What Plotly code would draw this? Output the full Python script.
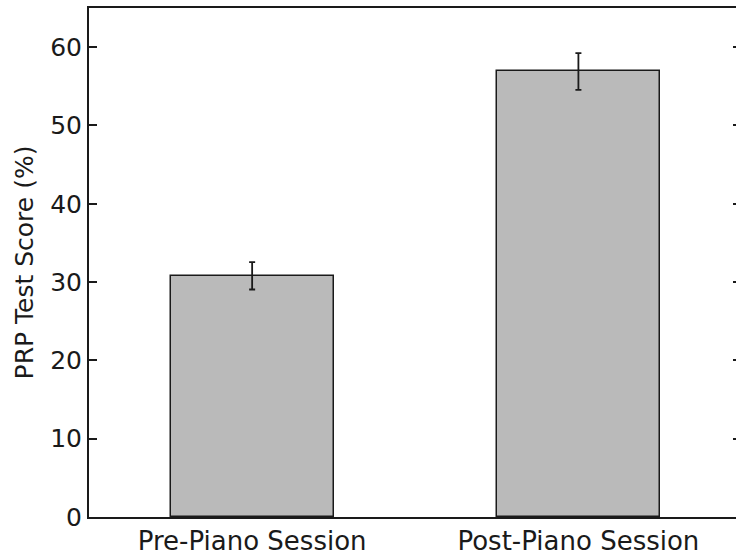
import plotly.graph_objects as go

categories = ["Pre-Piano Session", "Post-Piano Session"]
positions = [1, 2]
scores = [30.8, 56.9]
errors = [1.75, 2.35]
y_ticks = [0, 10, 20, 30, 40, 50, 60]

FONT = "DejaVu Sans"
INK = "#1a1a1a"

fig = go.Figure()
fig.add_trace(go.Bar(
    x=positions, y=scores, width=0.5,
    marker=dict(color="#bababa", line=dict(color=INK, width=1.5)),
    error_y=dict(type="data", array=errors, color=INK, thickness=1.8, width=3),
    showlegend=False,
))
# invisible trace to anchor right-hand tick axis
fig.add_trace(go.Scatter(x=[1], y=[0], yaxis="y2", mode="markers",
                         marker=dict(opacity=0), showlegend=False, hoverinfo="skip"))

fig.update_layout(
    width=736, height=556,
    margin=dict(l=89, r=0, t=8, b=37),
    paper_bgcolor="white", plot_bgcolor="white",
    font=dict(family=FONT, size=24, color=INK),
    bargap=0,
    xaxis=dict(
        range=[0.5, 2.483], tickmode="array", tickvals=positions, ticktext=categories,
        showline=True, linecolor=INK, linewidth=2, mirror=True,
        ticks="", showgrid=False, zeroline=False,
        tickfont=dict(family=FONT, size=26, color=INK),
    ),
    yaxis=dict(
        range=[0, 65], tickmode="array", tickvals=y_ticks,
        showline=True, linecolor=INK, linewidth=2,
        ticks="inside", ticklen=8, tickwidth=2, tickcolor=INK,
        showgrid=False, zeroline=False, ticklabelstandoff=0,
        tickfont=dict(family=FONT, size=25, color=INK),
        title=dict(text="PRP Test Score (%)", font=dict(family=FONT, size=25, color=INK), standoff=9),
    ),
    yaxis2=dict(
        range=[0, 65], overlaying="y", side="right", tickmode="array", tickvals=y_ticks,
        ticks="inside", ticklen=3, tickwidth=2, tickcolor=INK,
        showticklabels=False, showline=False, showgrid=False, zeroline=False,
    ),
)

fig.write_html("out.html", config={"displayModeBar": False},
               post_script="document.body.style.margin='0';document.body.style.overflow='hidden';")
